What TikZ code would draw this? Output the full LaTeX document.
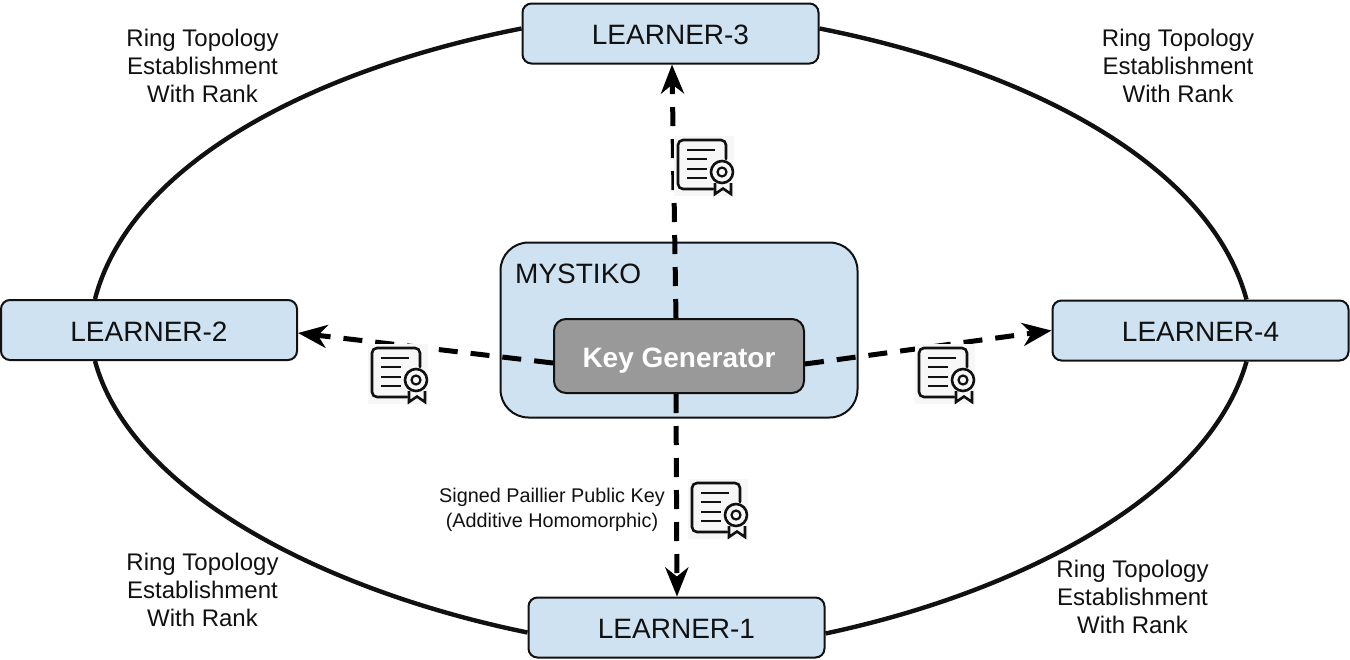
\documentclass[tikz,border=0pt]{standalone}
\usepackage{fontspec}
\setmainfont{Liberation Sans}
\usetikzlibrary{arrows.meta}
\definecolor{boxblue}{HTML}{CFE2F1}
\definecolor{keygray}{HTML}{999999}
\definecolor{inkblack}{HTML}{111111}
\tikzset{
  learner/.style={draw=inkblack,line width=2pt,rounded corners=9pt,fill=boxblue,minimum width=296pt,minimum height=60pt,inner sep=0pt,font=\fontsize{28}{32}\selectfont,text=inkblack,text height=22pt,text depth=0pt},
  ringlabel/.style={align=center,font=\fontsize{24}{28}\selectfont,text=inkblack,inner sep=0pt},
  ringline/.style={draw=inkblack,line width=4.4pt},
  keyarrow/.style={draw=black,line width=5pt,dash pattern=on 19pt off 13pt,-{Stealth[length=29pt,width=23pt,inset=9pt]}},
  certicon/.pic={
    \fill[white!97!black] (-4,-4) rectangle (56,56);
    \draw[inkblack,line width=2.6pt,line cap=round,rounded corners=5pt] (35,49) -- (0,49) -- (0,0) -- (48,0) -- (48,19);
    \draw[inkblack,line width=2.8pt] (9,10) -- (37,10) (9,19) -- (29,19) (9,29) -- (29,29) (9,38) -- (29,38);
    \draw[inkblack,line width=2.6pt] (44,32) circle (11);
    \draw[inkblack,line width=2.2pt] (44,32) circle (4.5);
    \draw[inkblack,line width=2.6pt,line join=miter] (37,43) -- (37,54) -- (45,48.5) -- (53,54) -- (53,43);
  }
}
\begin{document}
\begin{tikzpicture}[x=1pt,y=-1pt]
\useasboundingbox (0,0) rectangle (1350,659);
\fill[white] (0,0) rectangle (1350,659);
\node[learner] (l3) at (670.5,33.5) {LEARNER-3};
\node[learner] (l2) at (149,330) {LEARNER-2};
\node[learner] (l4) at (1200.5,330.5) {LEARNER-4};
\node[learner] (l1) at (676.5,627.5) {LEARNER-1};
\draw[ringline] ([yshift=5pt]l3.west) .. controls (310,70) and (130,165) .. ([xshift=-54pt]l2.north);
\draw[ringline] ([yshift=5pt]l3.east) .. controls (1030,70) and (1210,165) .. ([xshift=46pt]l4.north);
\draw[ringline] ([xshift=-54pt]l2.south) .. controls (130,490) and (320,590) .. ([yshift=-5pt]l1.west);
\draw[ringline] ([xshift=46pt]l4.south) .. controls (1210,490) and (1030,590) .. ([yshift=-6pt]l1.east);
\node[draw=inkblack,line width=2pt,rounded corners=28pt,fill=boxblue,minimum width=357pt,minimum height=175pt] (myst) at (679,330) {};
\node[anchor=west,inner sep=0pt,font=\fontsize{28}{32}\selectfont,text=inkblack] (mystlabel) at (515,274) {MYSTIKO};
\node[draw=inkblack,line width=2pt,rounded corners=12pt,fill=keygray,minimum width=250pt,minimum height=74pt,inner sep=0pt,text=white,text height=22pt,text depth=0pt,font=\fontsize{28}{32}\selectfont\bfseries] (kg) at (679,356) {Key Generator};
\draw[keyarrow] ([xshift=-3pt]kg.north) -- ([xshift=1.5pt]l3.south);
\draw[keyarrow] ([yshift=-7pt]kg.west) -- ([yshift=-3pt]l2.east);
\draw[keyarrow] ([yshift=-8pt]kg.east) -- (l4.west);
\draw[keyarrow] ([xshift=-3pt]kg.south) -- ([xshift=0.5pt]l1.north);
\path (678,140) pic {certicon};
\path (372,348) pic {certicon};
\path (919,348) pic {certicon};
\path (692,483) pic {certicon};
\node[ringlabel] (r1) at (202.5,66) {Ring Topology\\Establishment\\With Rank};
\node[ringlabel] (r2) at (1178,66) {Ring Topology\\Establishment\\With Rank};
\node[ringlabel] (r3) at (202.5,590) {Ring Topology\\Establishment\\With Rank};
\node[ringlabel] (r4) at (1132.5,597) {Ring Topology\\Establishment\\With Rank};
\node[align=center,inner sep=0pt,font=\fontsize{19.8}{25}\selectfont,text=inkblack] (sig) at (552,510) {Signed Paillier Public Key\\(Additive Homomorphic)};
\end{tikzpicture}
\end{document}
